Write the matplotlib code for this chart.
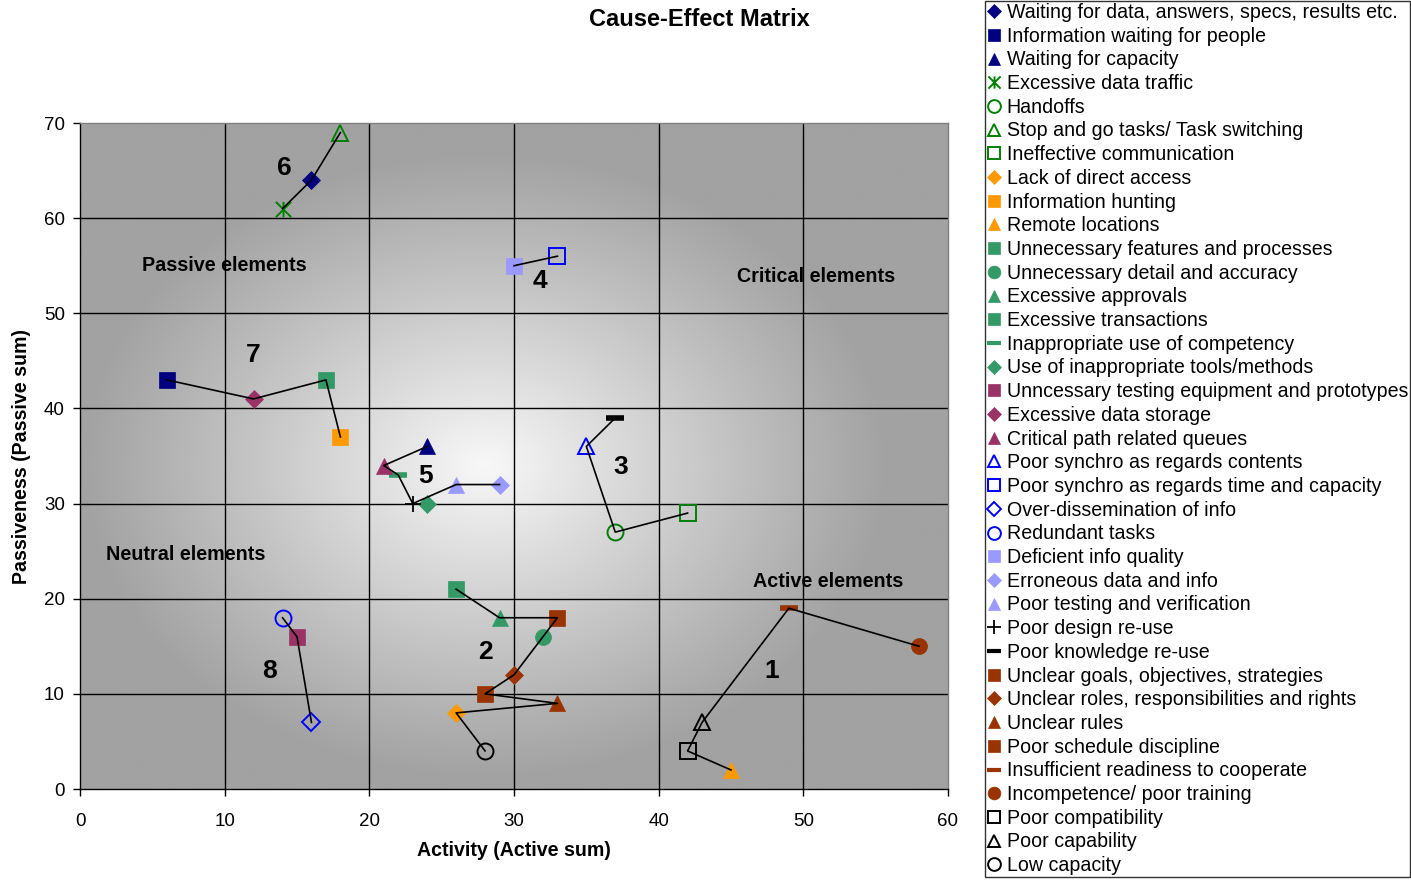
import numpy as np
import matplotlib
matplotlib.use('Agg')
import matplotlib.pyplot as plt
from matplotlib.path import Path
from matplotlib.lines import Line2D

plt.rcParams['font.family'] = ['Liberation Sans', 'DejaVu Sans']

# ---------------- data ----------------
labels = [
    "Waiting for data, answers, specs, results etc.",
    "Information waiting for people",
    "Waiting for capacity",
    "Excessive data traffic",
    "Handoffs",
    "Stop and go tasks/ Task switching",
    "Ineffective communication",
    "Lack of direct access",
    "Information hunting",
    "Remote locations",
    "Unnecessary features and processes",
    "Unnecessary detail and accuracy",
    "Excessive approvals",
    "Excessive transactions",
    "Inappropriate use of competency",
    "Use of inappropriate tools/methods",
    "Unncessary testing equipment and prototypes",
    "Excessive data storage",
    "Critical path related queues",
    "Poor synchro as regards contents",
    "Poor synchro as regards time and capacity",
    "Over-dissemination of info",
    "Redundant tasks",
    "Deficient info quality",
    "Erroneous data and info",
    "Poor testing and verification",
    "Poor design re-use",
    "Poor knowledge re-use",
    "Unclear goals, objectives, strategies",
    "Unclear roles, responsibilities and rights",
    "Unclear rules",
    "Poor schedule discipline",
    "Insufficient readiness to cooperate",
    "Incompetence/ poor training",
    "Poor compatibility",
    "Poor capability",
    "Low capacity",
]
activity = [16, 6, 24, 14, 37, 18, 42, 26, 18, 45, 26, 32, 29, 17, 22, 24, 15, 12, 21,
            35, 33, 16, 14, 30, 29, 26, 23, 37, 33, 30, 33, 28, 49, 58, 42, 43, 28]
passiveness = [64, 43, 36, 61, 27, 69, 29, 8, 37, 2, 21, 16, 18, 43, 33, 30, 16, 41, 34,
               36, 56, 7, 18, 55, 32, 32, 30, 39, 18, 12, 9, 10, 19, 15, 4, 7, 4]

# groups (indices into the series above) connected by lines
group_names = ["1", "2", "3", "4", "5", "6", "7", "8"]
group_members = [
    [9, 34, 35, 32, 33],
    [10, 12, 28, 11, 29, 31, 30, 7, 36],
    [27, 19, 4, 6],
    [23, 20],
    [2, 18, 14, 26, 25, 24],
    [3, 0, 5],
    [1, 17, 13, 8],
    [22, 16, 21],
]

x_ticks = [0, 10, 20, 30, 40, 50, 60]
y_ticks = [0, 10, 20, 30, 40, 50, 60, 70]

# ---------------- styles ----------------
NAVY, GREEN, ORANGE, SEA = '#000080', '#008000', '#FF9900', '#339966'
PURP, BLUE, LAV, BROWN, BLK = '#993366', '#0000FF', '#9999FF', '#993300', '#000000'

ast = Path([(-1, -1), (1, 1), (-1, 1), (1, -1), (0, -1), (0, 1)],
           [Path.MOVETO, Path.LINETO, Path.MOVETO, Path.LINETO, Path.MOVETO, Path.LINETO])

styles = [
    ('D', NAVY, True), ('s', NAVY, True), ('^', NAVY, True),
    (ast, GREEN, False), ('o', GREEN, False), ('^', GREEN, False), ('s', GREEN, False),
    ('D', ORANGE, True), ('s', ORANGE, True), ('^', ORANGE, True),
    ('s', SEA, True), ('o', SEA, True), ('^', SEA, True), ('s', SEA, True),
    ('_', SEA, True), ('D', SEA, True),
    ('s', PURP, True), ('D', PURP, True), ('^', PURP, True),
    ('^', BLUE, False), ('s', BLUE, False), ('D', BLUE, False), ('o', BLUE, False),
    ('s', LAV, True), ('D', LAV, True), ('^', LAV, True),
    ('+', BLK, True), ('_', BLK, True),
    ('s', BROWN, True), ('D', BROWN, True), ('^', BROWN, True), ('s', BROWN, True),
    ('_', BROWN, True), ('o', BROWN, True),
    ('s', BLK, False), ('^', BLK, False), ('o', BLK, False),
]


def msize(m):
    if isinstance(m, Path):
        return 11.0
    return {'D': 9.0, 's': 11.5, '^': 11.5, 'o': 11.5, '_': 13, '+': 12}[m]


fig = plt.figure(figsize=(14.11, 8.82), dpi=100)
fig.patch.set_facecolor('white')
ax = fig.add_axes([80 / 1411, 93 / 882, 868 / 1411, 666 / 882])

# background gradient (light centre, gray edges)
gx = np.linspace(0, 60, 400)
gy = np.linspace(0, 70, 400)
GX, GY = np.meshgrid(gx, gy)
r = np.sqrt(((GX - 28.0) / 28.0) ** 2 + ((GY - 34.0) / 33.0) ** 2)
val = 162 + 86 * np.clip(1 - r, 0, 1) ** 1.05
img = np.dstack([val, val, val]) / 255.0
ax.imshow(img, extent=[0, 60, 0, 70], origin='lower', aspect='auto', zorder=0,
          interpolation='bilinear')

ax.set_xlim(0, 60)
ax.set_ylim(0, 70)
ax.set_xticks(x_ticks)
ax.set_yticks(y_ticks)
for t in x_ticks[1:-1]:
    ax.axvline(t, color='black', lw=1.0, zorder=1)
for t in y_ticks[1:-1]:
    ax.axhline(t, color='black', lw=1.0, zorder=1)
ax.tick_params(axis='both', direction='out', length=5, width=1, labelsize=13.5, color='black')
ax.tick_params(axis='x', pad=12)
ax.tick_params(axis='y', pad=6)
for s in ['left', 'bottom']:
    ax.spines[s].set_color('black')
    ax.spines[s].set_linewidth(1.0)
for s in ['top', 'right']:
    ax.spines[s].set_color('#808080')
    ax.spines[s].set_linewidth(1.0)

# markers
handles = []
for i, (m, c, filled) in enumerate(styles):
    ms = msize(m)
    kw = dict(marker=m, linestyle='none', markersize=ms, zorder=3)
    if m in ('_', '+'):
        kw.update(color=c, markeredgewidth=4 if m == '_' else 1.3)
    elif filled:
        kw.update(markerfacecolor=c, markeredgecolor=c, markeredgewidth=0.5)
    else:
        kw.update(markerfacecolor='none', markeredgecolor=c, markeredgewidth=1.4)
    ax.plot([activity[i]], [passiveness[i]], **kw)
    hkw = dict(kw)
    hkw['markersize'] = ms * 0.8
    if m == '_':
        hkw['markeredgewidth'] = 3
    handles.append(Line2D([], [], **hkw))

# connecting lines
for members in group_members:
    ax.plot([activity[k] for k in members], [passiveness[k] for k in members],
            color='black', lw=1.2, zorder=4)

# group numbers
num_pos = {"1": (47.8, 12.4), "2": (28.0, 14.4), "3": (37.4, 33.8), "4": (31.8, 53.4),
           "5": (23.9, 32.9), "6": (14.1, 65.3), "7": (11.95, 45.6), "8": (13.1, 12.4)}
for g in group_names:
    x, y = num_pos[g]
    ax.text(x, y, g, fontsize=19, fontweight='bold', ha='center', va='center', zorder=5)

# region labels
ax.text(10.0, 54.97, "Passive elements", fontsize=14.2, fontweight='bold', ha='center', va='center', zorder=5)
ax.text(50.86, 53.9, "Critical elements", fontsize=14.2, fontweight='bold', ha='center', va='center', zorder=5)
ax.text(7.33, 24.6, "Neutral elements", fontsize=14.2, fontweight='bold', ha='center', va='center', zorder=5)
ax.text(51.7, 21.86, "Active elements", fontsize=14.2, fontweight='bold', ha='center', va='center', zorder=5)

fig.text(699 / 1411, 1 - 20 / 882, "Cause-Effect Matrix", fontsize=17, fontweight='bold',
         ha='center', va='center')
fig.text(514 / 1411, 1 - 851 / 882, "Activity (Active sum)", fontsize=14.1, fontweight='bold',
         ha='center', va='center')
fig.text(22 / 1411, 1 - 456 / 882, "Passiveness (Passive sum)", fontsize=14.1, fontweight='bold',
         ha='center', va='center', rotation=90)

leg = fig.legend(handles, labels, loc='upper left', bbox_to_anchor=(985 / 1411, 1 - 1 / 882),
                 fontsize=14.1, frameon=True, fancybox=False, edgecolor='black',
                 handlelength=0.75, handletextpad=0.25, borderpad=0.1, labelspacing=0.24,
                 borderaxespad=0)
leg.get_frame().set_linewidth(1.0)

fig.savefig('out.png', dpi=100)
